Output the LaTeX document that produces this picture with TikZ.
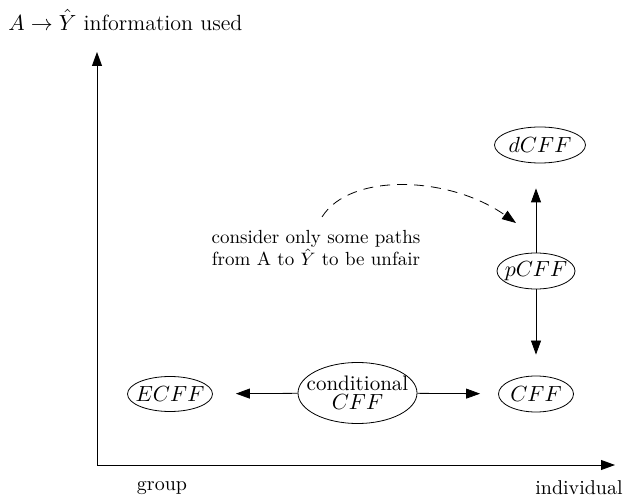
\documentclass[tikz,border=0pt]{standalone}
\usetikzlibrary{shapes.geometric,arrows.meta}
\begin{document}
\begin{tikzpicture}[x=0.5pt,y=-0.5pt,
  ell/.style={draw,ellipse,inner sep=-3pt,line width=0.4pt,font=\fontsize{11}{13}\selectfont},
  arr/.style={-{Triangle[length=7pt,width=5pt]},line width=0.4pt}]
\useasboundingbox (0,0) rectangle (632,502);
% axes
\coordinate (o) at (97,465);
\coordinate (ytop) at (97,52);
\coordinate (xend) at (615,465);
\draw[arr] (o) -- (ytop);
\draw[arr] (o) -- (xend);
\node[anchor=west,inner sep=0pt,font=\fontsize{11}{13}\selectfont] (ylab) at (8,20) {$A\rightarrow\hat{Y}$ information used};
\node[inner sep=0pt] (group) at (162,488) {group};
\node[inner sep=0pt] (indiv) at (579,488) {individual};
% nodes
\node[ell,minimum width=45.5pt,minimum height=18pt] (dcff) at (540,145) {$dCFF$};
\node[ell,minimum width=39pt,minimum height=18pt] (pcff) at (536,271) {$pCFF$};
\node[ell,minimum width=37.5pt,minimum height=18pt] (cff) at (536,394) {$CFF$};
\node[ell,minimum width=42.5pt,minimum height=17.5pt] (ecff) at (170,394) {$ECFF$};
\node[ell,minimum width=59.5pt,minimum height=30.5pt,inner xsep=-5pt,inner ysep=0pt,align=center,font=\fontsize{10.5}{9.5}\selectfont] (cond) at (357.5,393) {conditional\\$CFF$};
\node[align=center,inner sep=0pt,font=\fontsize{9.5}{9.5}\selectfont] (txt) at (316,248) {consider only some paths\\from A to $\hat{Y}$ to be unfair};
% edges
\draw[arr,shorten >=12.5pt] (pcff.north) -- (pcff.north |- dcff.south);
\draw[arr,shorten >=10.5pt] (pcff.south) -- (pcff.south |- cff.north);
\draw[arr,shorten >=11.5pt] (cond) -- (ecff);
\draw[arr,shorten >=9pt] (cond) -- (cff);
\coordinate (ds) at (322,217);
\coordinate (de) at (516,223);
\draw[arr,dash pattern=on 5pt off 3.5pt] (ds) .. controls (350,172) and (450,176) .. (de);
\end{tikzpicture}
\end{document}
